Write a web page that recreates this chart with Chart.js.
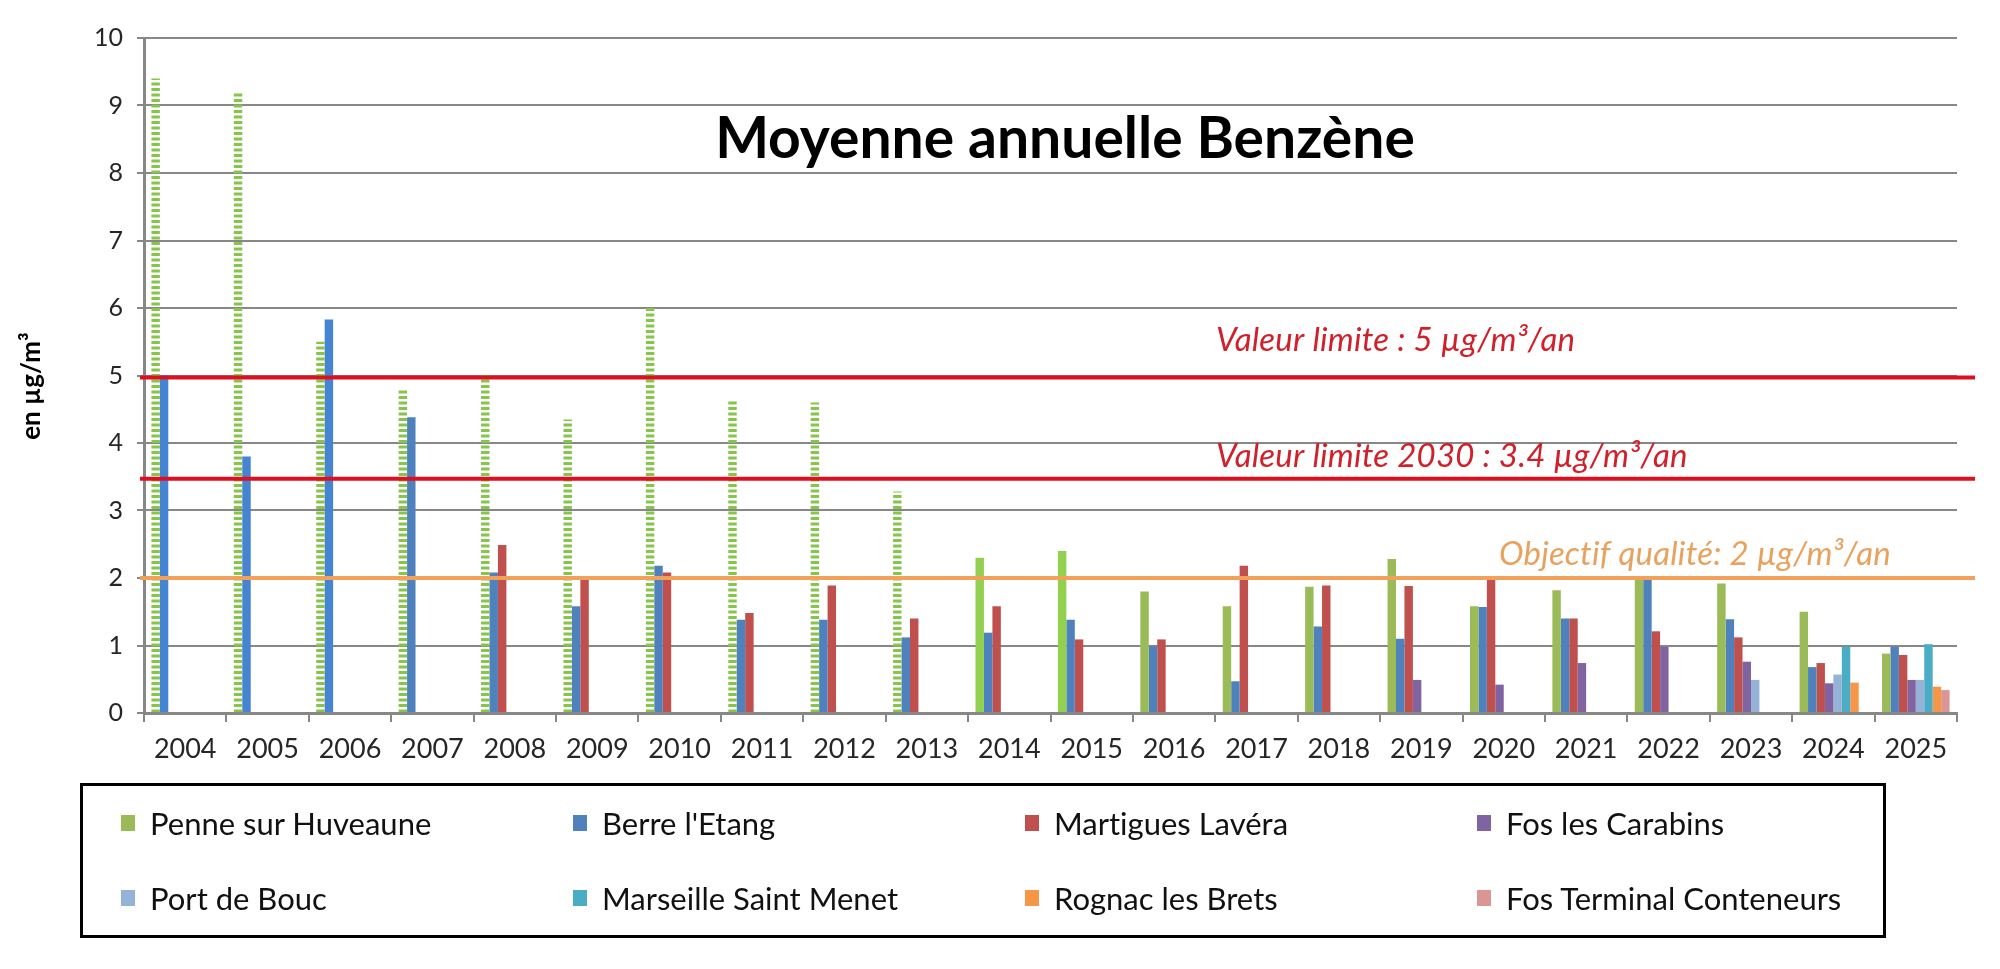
<!DOCTYPE html>
<html lang="fr">
<head>
<meta charset="utf-8">
<title>Moyenne annuelle Benzène</title>
<script src="https://cdn.jsdelivr.net/npm/chart.js@4.4.1/dist/chart.umd.min.js"></script>
<style>
  html, body { margin: 0; padding: 0; background: #fff; }
  #wrap { position: relative; width: 2000px; height: 969px; overflow: hidden; }
  #chart { position: absolute; left: 0; top: 0; }
  #legend {
    position: absolute; left: 80px; top: 783px;
    width: 1800px; height: 149px;
    border: 3px solid #000;
    font-family: Lato, sans-serif;
    font-variant-ligatures: none;
  }
  .item { position: absolute; height: 36px; display: flex; align-items: center; font-size: 31px; color: #111; white-space: nowrap; }
  .swatch { width: 14px; height: 16px; margin-right: 15px; }
</style>
</head>
<body>
<div id="wrap">
  <canvas id="chart" width="2000" height="969"></canvas>
  <div id="legend"></div>
</div>
<script>
// Categories and station series (µg/m³), null = no measurement
const years = ['2004', '2005', '2006', '2007', '2008', '2009', '2010', '2011', '2012', '2013', '2014',
               '2015', '2016', '2017', '2018', '2019', '2020', '2021', '2022', '2023', '2024', '2025'];

const stations = ['Penne sur Huveaune', "Berre l'Etang", 'Martigues Lavéra', 'Fos les Carabins',
                  'Port de Bouc', 'Marseille Saint Menet', 'Rognac les Brets', 'Fos Terminal Conteneurs'];

const penne = [9.4, 9.2, 5.5, 4.8, 5.0, 4.35, 6.0, 4.65, 4.6, 3.28, 2.3,
               2.4, 1.8, 1.58, 1.87, 2.28, 1.58, 1.82, 2.02, 1.92, 1.5, 0.88];
const berre = [5.0, 3.8, 5.83, 4.38, 2.08, 1.58, 2.18, 1.38, 1.38, 1.12, 1.19,
               1.38, 0.99, 0.47, 1.28, 1.1, 1.57, 1.4, 1.99, 1.39, 0.68, 0.98];
const martigues = [null, null, null, null, 2.49, 2.0, 2.08, 1.48, 1.89, 1.4, 1.58,
                   1.09, 1.09, 2.18, 1.89, 1.88, 1.98, 1.4, 1.21, 1.12, 0.74, 0.86];
const fosCarabins = [null, null, null, null, null, null, null, null, null, null, null,
                     null, null, null, null, 0.49, 0.42, 0.74, 0.98, 0.76, 0.44, 0.49];
const portDeBouc = [null, null, null, null, null, null, null, null, null, null, null,
                    null, null, null, null, null, null, null, null, 0.49, 0.57, 0.49];
const marseille = [null, null, null, null, null, null, null, null, null, null, null,
                   null, null, null, null, null, null, null, null, null, 0.98, 1.02];
const rognac = [null, null, null, null, null, null, null, null, null, null, null,
                null, null, null, null, null, null, null, null, null, 0.45, 0.39];
const fosTerminal = [null, null, null, null, null, null, null, null, null, null, null,
                     null, null, null, null, null, null, null, null, null, null, 0.34];

// Regulatory thresholds
const refValues = [4.97, 3.47, 2];
const refLabels = ['Valeur limite : 5 µg/m³/an', 'Valeur limite 2030 : 3.4 µg/m³/an', 'Objectif qualité: 2 µg/m³/an'];

// Styling
const legendColors = ['#9BBB59', '#4F81BD', '#C0504D', '#8064A2', '#95B3D7', '#4BACC6', '#F79646', '#D99694'];
const refLineColors = ['#DD1020', '#DD1020', '#F2A15A'];
const refTextColors = ['#D0202A', '#D0202A', '#E9A15E'];
const refLabelX = [1216, 1216, 1499];
const refLabelGap = [27, 12, 13];
const gridColor = '#878787';

Chart.defaults.font.family = 'Lato, sans-serif';

function dottedPattern(color) {
    const c = document.createElement('canvas');
    c.width = 8;
    c.height = 11;
    const g = c.getContext('2d');
    g.fillStyle = color;
    g.fillRect(0, 0, 8, 3);
    g.fillRect(0, 5.5, 8, 3);
    return g.createPattern(c, 'repeat');
}

const dotted = dottedPattern('#86C44C');
const penneColors = years.map(y => {
    if (+y <= 2013) return dotted;
    if (+y <= 2015) return '#92D050';
    return '#9BBB59';
});
const berreColors = years.map(y => +y <= 2006 ? '#4584D2' : '#4F81BD');

const seriesData = [penne, berre, martigues, fosCarabins, portDeBouc, marseille, rognac, fosTerminal];
const seriesColors = [penneColors, berreColors].concat(legendColors.slice(2));

const refLinesPlugin = {
    id: 'refLines',
    afterDatasetsDraw(chart) {
        const { ctx, chartArea, scales: { y } } = chart;
        ctx.save();
        refValues.forEach((v, i) => {
            const py = y.getPixelForValue(v);
            ctx.strokeStyle = refLineColors[i];
            ctx.lineWidth = 4;
            ctx.beginPath();
            ctx.moveTo(chartArea.left - 4, py);
            ctx.lineTo(chartArea.right + 18, py);
            ctx.stroke();
            ctx.font = 'italic 33px Lato';
            ctx.letterSpacing = '0.2px'; // breaks the "ti" ligature
            ctx.fillStyle = refTextColors[i];
            ctx.textAlign = 'left';
            ctx.textBaseline = 'alphabetic';
            ctx.fillText(refLabels[i], refLabelX[i], py - refLabelGap[i]);
        });
        ctx.restore();
    }
};

const titlesPlugin = {
    id: 'titles',
    afterDraw(chart) {
        const ctx = chart.ctx;
        ctx.save();
        ctx.fillStyle = '#000';
        ctx.font = 'bold 57px Lato';
        ctx.textAlign = 'center';
        ctx.textBaseline = 'alphabetic';
        ctx.fillText('Moyenne annuelle Benzène', 1065, 158);

        ctx.translate(32, 386);
        ctx.rotate(-Math.PI / 2);
        ctx.font = 'bold 26px Lato';
        ctx.textBaseline = 'middle';
        ctx.fillText('en µg/m³', 0, 0);
        ctx.restore();
    }
};

const chart = new Chart(document.getElementById('chart'), {
    type: 'bar',
    data: {
        labels: years,
        datasets: stations.map((name, i) => ({
            label: name,
            data: seriesData[i],
            backgroundColor: seriesColors[i],
            borderWidth: 0,
            categoryPercentage: 0.82,
            barPercentage: 1.0
        }))
    },
    options: {
        responsive: false,
        animation: false,
        layout: {
            padding: { left: 0, top: 38, right: 43, bottom: 196 }
        },
        plugins: {
            legend: { display: false },
            title: { display: false },
            tooltip: { enabled: false }
        },
        scales: {
            x: {
                afterFit(scale) { scale.height = 60; },
                grid: {
                    offset: true,
                    drawOnChartArea: false,
                    drawTicks: true,
                    tickLength: 9,
                    color: gridColor,
                    lineWidth: 2
                },
                border: { color: gridColor, width: 3 },
                ticks: {
                    color: '#262626',
                    font: { size: 27 },
                    padding: 11,
                    maxRotation: 0,
                    autoSkip: false
                }
            },
            y: {
                min: 0,
                max: 10,
                afterFit(scale) { scale.width = 144; },
                grid: {
                    color: gridColor,
                    lineWidth: 2,
                    tickLength: 7
                },
                border: { color: gridColor, width: 3 },
                ticks: {
                    stepSize: 1,
                    color: '#262626',
                    font: { size: 25 },
                    padding: 14
                }
            }
        }
    },
    plugins: [refLinesPlugin, titlesPlugin]
});

// HTML legend in a 4-column grid, built from the chart's datasets
const legendEl = document.getElementById('legend');
chart.data.datasets.forEach((ds, i) => {
    const item = document.createElement('div');
    item.className = 'item';
    item.style.left = (38 + (i % 4) * 452) + 'px';
    item.style.top = (i < 4 ? 19 : 94) + 'px';
    const sw = document.createElement('span');
    sw.className = 'swatch';
    sw.style.background = legendColors[i];
    const txt = document.createElement('span');
    txt.textContent = ds.label;
    item.appendChild(sw);
    item.appendChild(txt);
    legendEl.appendChild(item);
});
</script>
</body>
</html>
